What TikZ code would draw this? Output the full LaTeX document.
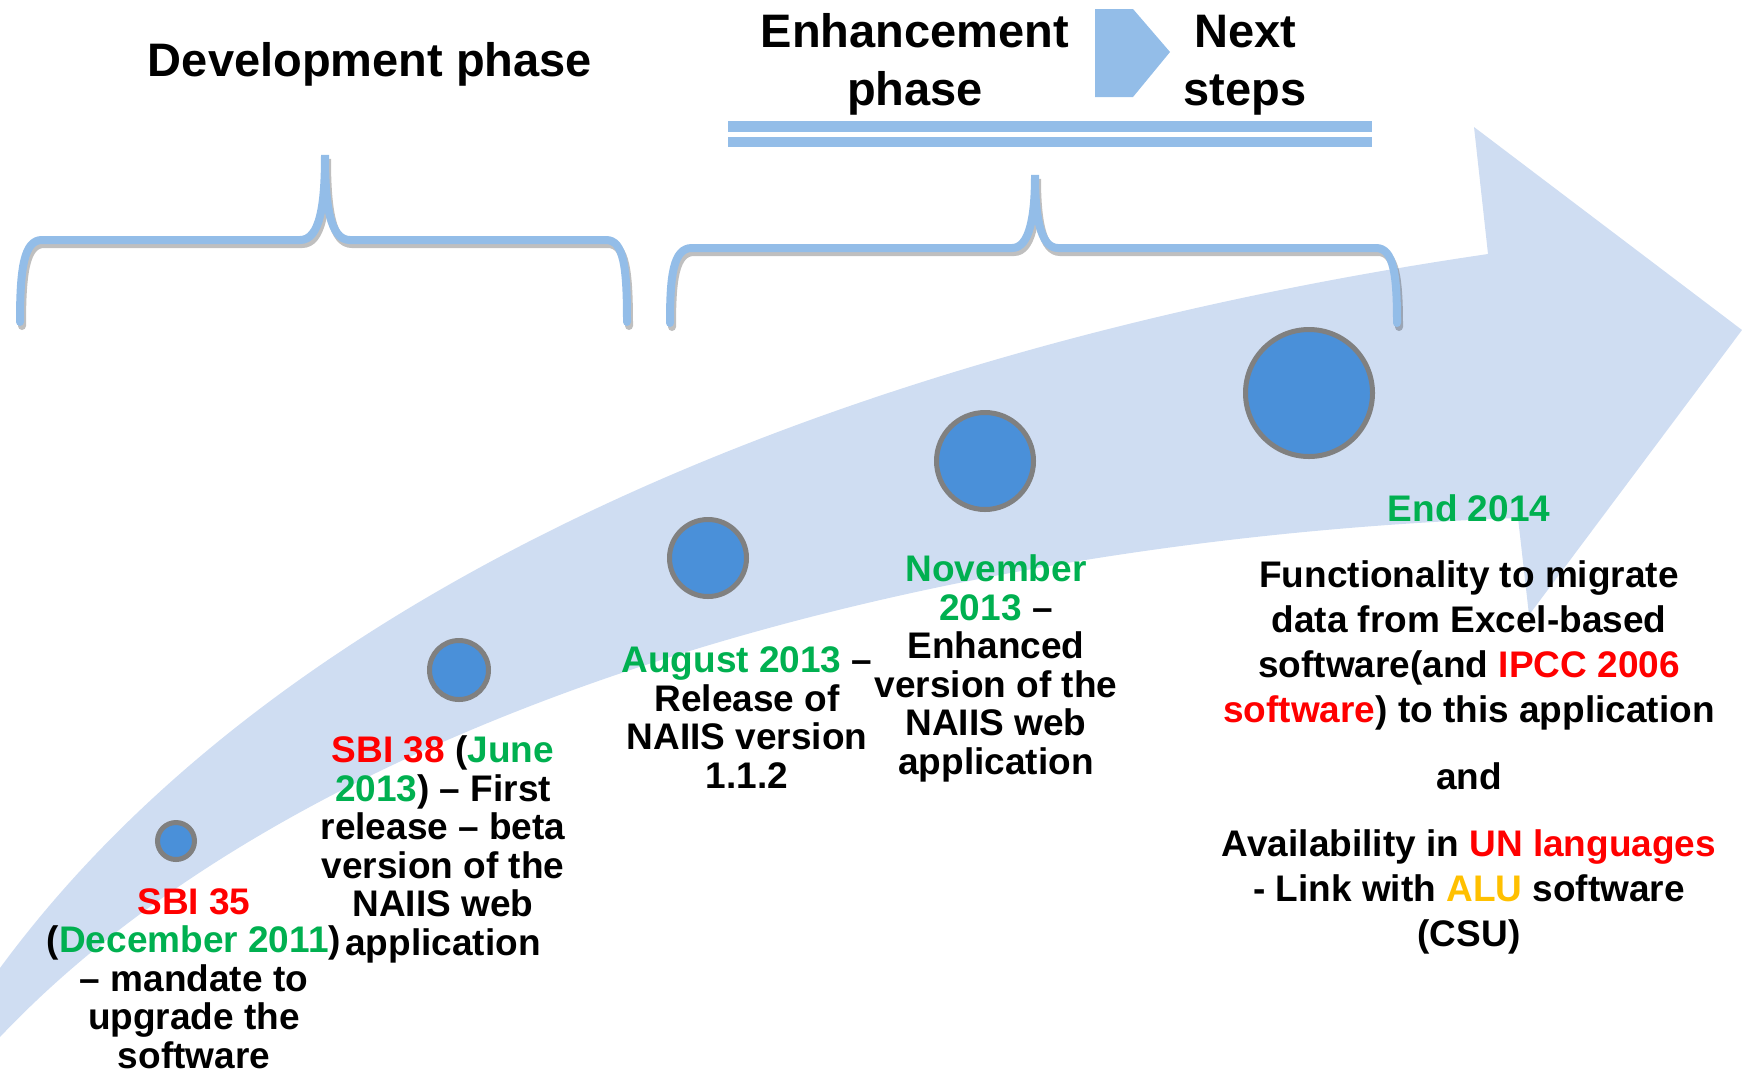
\documentclass[tikz,border=0pt]{standalone}
\usepackage{fontspec}
\setmainfont{Liberation Sans}
\definecolor{bandblue}{RGB}{207,221,242}
\definecolor{braceblue}{RGB}{147,189,232}
\definecolor{dotblue}{RGB}{74,144,217}
\definecolor{ringgray}{RGB}{128,128,128}
\definecolor{msred}{RGB}{255,0,0}
\definecolor{msgreen}{RGB}{0,176,80}
\definecolor{msgold}{RGB}{255,192,0}
\tikzset{
	milestone/.style={circle, fill=dotblue, draw=ringgray, line width=0.5mm, inner sep=0pt},
	phasetitle/.style={font=\fontsize{4.7mm}{5.8mm}\selectfont\bfseries, align=center, inner sep=0pt, anchor=base},
	note/.style={font=\fontsize{3.7mm}{3.85mm}\selectfont\bfseries, align=center, inner sep=0pt, anchor=base},
	goal/.style={font=\fontsize{3.7mm}{4.47mm}\selectfont\bfseries, align=center, inner sep=0pt, anchor=base},
	bracestroke/.style={draw=braceblue, line width=0.8mm, line cap=round},
	braceshadow/.style={draw=black, opacity=0.25, line width=0.8mm, line cap=round}
}
% brace outlines
\def\devbrace{(20,322) .. controls (20,268) and (24,240) .. (42,240) -- (300,240) .. controls (320,240) and (325,205) .. (325,155) .. controls (325,205) and (330,240) .. (350,240) -- (606,240) .. controls (624,240) and (627,268) .. (627,322)}
\def\enhbrace{(670,323) .. controls (670,276) and (673,248) .. (692,248) -- (1012,248) .. controls (1030,248) and (1035,215) .. (1035,175) .. controls (1035,215) and (1040,248) .. (1058,248) -- (1376,248) .. controls (1394,248) and (1397,276) .. (1397,323)}
\begin{document}
\begin{tikzpicture}[x=0.1mm, y=-0.1mm]
	\useasboundingbox (0,0) rectangle (1742,1075);
	% the big curved arrow
	\fill[bandblue] (0,968) .. controls (300,560) and (900,340) .. (1488,254) -- (1474,127) -- (1742,330) -- (1529,615) -- (1518,518) .. controls (900,540) and (300,720) .. (0,1037) -- cycle;
	% phase braces
	\draw[braceshadow, shift={(2,4)}] \devbrace;
	\draw[bracestroke] \devbrace;
	\draw[braceshadow, shift={(2,4)}] \enhbrace;
	\draw[bracestroke] \enhbrace;
	% double bar and chevron
	\fill[braceblue] (728,121) rectangle (1372,132);
	\fill[braceblue] (728,137) rectangle (1372,147);
	\fill[braceblue] (1095,9) -- (1133,9) -- (1170,52) -- (1133,97) -- (1095,97) -- cycle;
	% titles (base = last line)
	\node[phasetitle] (devphase) at (370,76) {Development phase};
	\node[phasetitle] (enhphase) at (915,105) {Enhancement\\phase};
	\node[phasetitle] (nextsteps) at (1245,105) {Next\\steps};
	% milestones
	\node[milestone, minimum size=3.7mm] (dot35) at (176,841) {};
	\node[milestone, minimum size=5.9mm] (dot38) at (459,670) {};
	\node[milestone, minimum size=7.7mm] (dotaug) at (708,558) {};
	\node[milestone, minimum size=9.7mm] (dotnov) at (985,461) {};
	\node[milestone, minimum size=12.7mm] (dotend) at (1309,393) {};
	% milestone texts
	\node[note] (lab35) at (194,1068) {\textcolor{msred}{SBI 35}\\(\textcolor{msgreen}{December 2011})\\– mandate to\\upgrade the\\software};
	\node[note] (lab38) at (443,955) {\textcolor{msred}{SBI 38} (\textcolor{msgreen}{June}\\\textcolor{msgreen}{2013}) – First\\release – beta\\version of the\\NAIIS web\\application};
	\node[note] (labaug) at (747,788) {\textcolor{msgreen}{August 2013} –\\Release of\\NAIIS version\\1.1.2};
	\node[note] (labnov) at (996,774) {\textcolor{msgreen}{November}\\\textcolor{msgreen}{2013} –\\Enhanced\\version of the\\NAIIS web\\application};
	\node[goal] (labend) at (1469,521) {\textcolor{msgreen}{End 2014}};
	\node[goal] (labfunc) at (1469,722) {Functionality to migrate\\data from Excel-based\\software(and \textcolor{msred}{IPCC 2006}\\\textcolor{msred}{software}) to this application};
	\node[goal] (laband) at (1469,789) {and};
	\node[goal] (labavail) at (1469,946) {Availability in \textcolor{msred}{UN languages}\\- Link with \textcolor{msgold}{ALU} software\\(CSU)};
\end{tikzpicture}
\end{document}
